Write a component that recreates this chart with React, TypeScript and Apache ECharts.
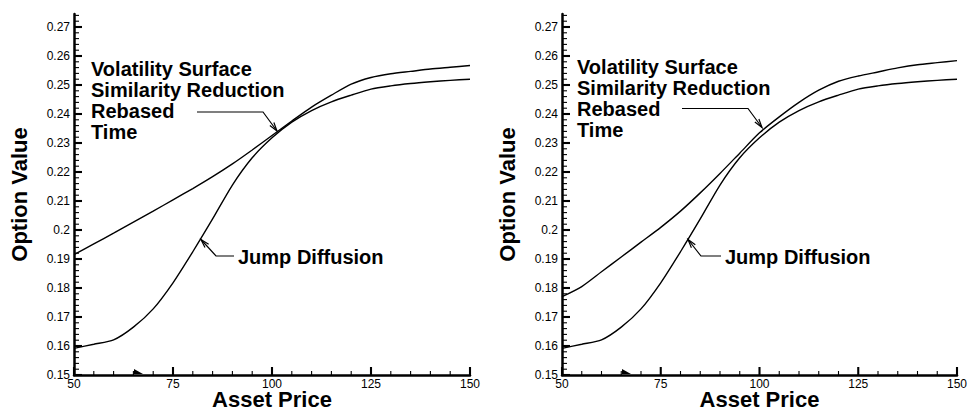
import React, { useEffect, useRef } from "react";
import * as echarts from "echarts";

// ---- data ----
const assetPrice = [50, 55, 60, 65, 70, 75, 80, 85, 90, 95, 100, 105, 110, 115, 120, 125, 130, 135, 140, 145, 150];
const jumpDiffusion = [0.1592, 0.1606, 0.1621, 0.1665, 0.1728, 0.1818, 0.1925, 0.2038, 0.2155, 0.2249, 0.2318, 0.2372, 0.2412, 0.2442, 0.2465, 0.2486, 0.2497, 0.2505, 0.2511, 0.2516, 0.252];
const volSurfaceLeft = [0.1915, 0.1952, 0.1989, 0.2027, 0.2065, 0.2104, 0.2143, 0.2184, 0.2228, 0.2276, 0.2326, 0.2376, 0.2424, 0.2465, 0.2503, 0.2526, 0.2539, 0.2547, 0.2555, 0.2561, 0.2567];
const volSurfaceRight = [0.177, 0.1805, 0.1856, 0.1907, 0.1958, 0.2009, 0.2065, 0.2128, 0.2195, 0.2265, 0.2335, 0.239, 0.244, 0.2482, 0.2513, 0.2531, 0.2545, 0.2559, 0.257, 0.2577, 0.2584];

// ---- axes / ticks ----
const xMin = 50;
const xMax = 150;
const xInterval = 25;
const yMin = 0.15;
const yMax = 0.2745;
const yInterval = 0.01;
const xMajorTicks = [50, 75, 100, 125, 150];
const xMinorTicks = [55, 60, 65, 70, 80, 85, 90, 95, 105, 110, 115, 120, 130, 135, 140, 145];
const yMajorTicks = [0.15, 0.16, 0.17, 0.18, 0.19, 0.2, 0.21, 0.22, 0.23, 0.24, 0.25, 0.26, 0.27];
const yMinorSteps = [0.002, 0.004, 0.006, 0.008];

const upperLabelLines = ["Volatility Surface", "Similarity Reduction", "Rebased", "Time"];
const lowerLabel = "Jump Diffusion";
const xTitle = "Asset Price";
const yTitle = "Option Value";

const FONT = '"Liberation Sans", Arial, Helvetica, sans-serif';

function arrow(pts: number[][]) {
  const n = pts.length;
  const [x1, y1] = pts[n - 2];
  const [x2, y2] = pts[n - 1];
  const ang = Math.atan2(y2 - y1, x2 - x1);
  const L = 9;
  const a = 0.28;
  const h1 = [x2 - L * Math.cos(ang - a), y2 - L * Math.sin(ang - a)];
  const h2 = [x2 - L * Math.cos(ang + a), y2 - L * Math.sin(ang + a)];
  const style = { stroke: "#000", lineWidth: 1.2, fill: null };
  return [
    { type: "polyline", shape: { points: pts }, style },
    { type: "polyline", shape: { points: [h1, [x2, y2], h2] }, style },
  ];
}

export default function App() {
  const ref = useRef<HTMLDivElement>(null);
  useEffect(() => {
    if (!ref.current) return;
    const chart = echarts.init(ref.current, null, { renderer: "svg" });

    const panels = [
      { left: 74, width: 396, vol: volSurfaceLeft },
      { left: 562, width: 395, vol: volSurfaceRight },
    ];
    const bottomPx = 375;
    const pxPerUnit = 2900;

    const grid: any[] = [];
    const xAxis: any[] = [];
    const yAxis: any[] = [];
    const series: any[] = [];
    const graphic: any[] = [];

    panels.forEach((p, k) => {
      const h = (yMax - yMin) * pxPerUnit;
      grid.push({ left: p.left, width: p.width, top: bottomPx - h, height: h, outerBoundsMode: "none" });

      xAxis.push({
        type: "value",
        gridIndex: k,
        min: xMin,
        max: xMax,
        interval: xInterval,
        name: xTitle,
        nameLocation: "middle",
        nameGap: 13,
        nameMoveOverlap: false,
        nameTextStyle: { fontFamily: FONT, fontWeight: "bold", fontSize: 22, color: "#000" },
        axisLine: { show: true, lineStyle: { color: "#000", width: 2.5 } },
        axisTick: { show: false },
        minorTick: { show: false },
        axisLabel: { show: true, margin: 3, fontFamily: FONT, fontSize: 12, color: "#000" },
        splitLine: { show: false },
      });
      yAxis.push({
        type: "value",
        gridIndex: k,
        min: yMin,
        max: yMax,
        interval: yInterval,
        name: yTitle,
        nameLocation: "middle",
        nameGap: 44,
        nameRotate: 90,
        nameMoveOverlap: false,
        nameTextStyle: { fontFamily: FONT, fontWeight: "bold", fontSize: 22, color: "#000" },
        axisLine: { show: true, lineStyle: { color: "#000", width: 2.5 } },
        axisTick: { show: false },
        axisLabel: {
          show: true,
          margin: 4,
          fontFamily: FONT,
          fontSize: 12,
          color: "#000",
          showMaxLabel: false,
          formatter: (v: number) => String(+v.toFixed(2)),
        },
        splitLine: { show: false },
      });

      const lineStyle = { color: "#000", width: 1.4 };
      series.push({
        type: "line",
        xAxisIndex: k,
        yAxisIndex: k,
        data: assetPrice.map((x, i) => [x, p.vol[i]]),
        showSymbol: false,
        smooth: 0.25,
        lineStyle,
      });
      series.push({
        type: "line",
        xAxisIndex: k,
        yAxisIndex: k,
        data: assetPrice.map((x, i) => [x, jumpDiffusion[i]]),
        showSymbol: false,
        smooth: 0.25,
        lineStyle,
      });
    });

    const ann = [
      { tx: 91, ty: 69, jx: 238, jy: 257, up: [[197, 112], [263, 112], [277, 131]], lo: [[234, 256], [216, 256], [201, 239.5]], mark: 134 },
      { tx: 577, ty: 67, jx: 725, jy: 257, up: [[682, 108.5], [748, 108.5], [762, 127.5]], lo: [[721, 256], [701, 256], [688, 239.5]], mark: 622 },
    ];
    ann.forEach((a) => {
      upperLabelLines.forEach((t, i) => {
        graphic.push({
          type: "text",
          x: a.tx,
          y: a.ty + i * 21,
          style: { text: t, fill: "#000", font: `bold 20px ${FONT}`, verticalAlign: "middle", align: "left" },
        });
      });
      graphic.push({
        type: "text",
        x: a.jx,
        y: a.jy,
        style: { text: lowerLabel, fill: "#000", font: `bold 20px ${FONT}`, verticalAlign: "middle", align: "left" },
      });
      graphic.push(...arrow(a.up));
      graphic.push(...arrow(a.lo));
      graphic.push({
        type: "polygon",
        shape: { points: [[a.mark, 369], [a.mark + 9, 374], [a.mark, 374]] },
        style: { fill: "#000" },
      });
    });

    chart.setOption({
      animation: false,
      grid,
      xAxis,
      yAxis,
      series,
      graphic,
    });

    // axis ticks (inside), placed through the axes' own scales
    const ticks: any[] = [];
    const tickLine = (pts: number[][], w: number) => ({
      type: "polyline",
      z: 10,
      silent: true,
      shape: { points: pts },
      style: { stroke: "#000", lineWidth: w, fill: null },
    });
    panels.forEach((p, k) => {
      const toPx = (v: number[]) => chart.convertToPixel({ gridIndex: k } as any, v) as number[];
      xMajorTicks.forEach((v) => {
        const [px, py] = toPx([v, yMin]);
        ticks.push(tickLine([[px, py], [px, py - 8]], 2.1));
      });
      xMinorTicks.forEach((v) => {
        const [px, py] = toPx([v, yMin]);
        ticks.push(tickLine([[px, py], [px, py - 4]], 1.1));
      });
      yMajorTicks.forEach((v) => {
        const [px, py] = toPx([xMin, v]);
        ticks.push(tickLine([[px, py], [px + 8, py]], 2.1));
        yMinorSteps.forEach((s) => {
          const m = v + s;
          if (m <= yMax) {
            const [qx, qy] = toPx([xMin, m]);
            ticks.push(tickLine([[qx, qy], [qx + 5, qy]], 1.1));
          }
        });
      });
    });
    chart.setOption({ graphic: [...graphic, ...ticks] });

    return () => chart.dispose();
  }, []);
  return <div ref={ref} style={{ position: "fixed", left: 0, top: 0, width: 969, height: 412, background: "#fff" }} />;
}
